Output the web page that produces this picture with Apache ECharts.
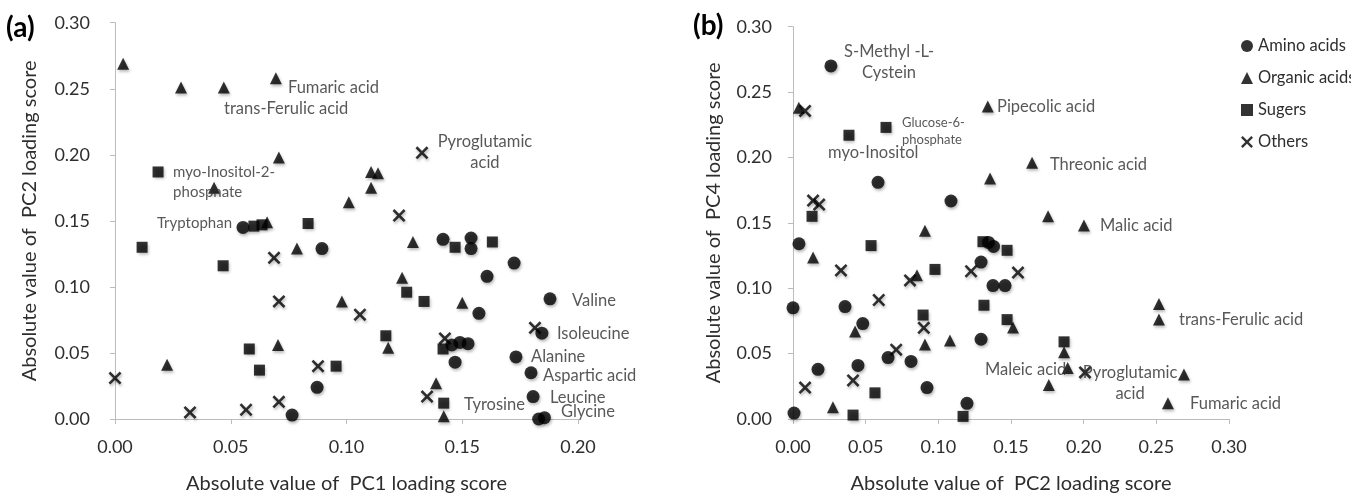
<!DOCTYPE html>
<html><head><meta charset="utf-8">
<script src="https://cdn.jsdelivr.net/npm/echarts@6/dist/echarts.min.js"></script>
<style>html,body{margin:0;padding:0;background:#fff}#c{width:1351px;height:499px}</style>
</head><body><div id="c"></div>
<script>
// ---------- Panel (a): |PC1| (x) vs |PC2| (y) ----------
const aminoA = [[0.0553,0.145],[0.0894,0.129],[0.0765,0.003],[0.0873,0.024],[0.1417,0.136],[0.1538,0.137],[0.1538,0.129],[0.1724,0.118],[0.1607,0.108],[0.1879,0.091],[0.1844,0.065],[0.1572,0.080],[0.1455,0.056],[0.1490,0.058],[0.1525,0.057],[0.1469,0.043],[0.1732,0.047],[0.1797,0.035],[0.1806,0.017],[0.1830,0.000],[0.1855,0.001]];
const organicA = [[0.0035,0.269],[0.0285,0.251],[0.047,0.251],[0.0695,0.258],[0.0708,0.198],[0.0428,0.175],[0.0657,0.149],[0.0786,0.129],[0.0704,0.056],[0.0225,0.041],[0.1106,0.187],[0.1136,0.186],[0.1106,0.175],[0.101,0.164],[0.1287,0.134],[0.124,0.107],[0.098,0.089],[0.118,0.054],[0.150,0.088],[0.1387,0.027],[0.142,0.002]];
const sugarA = [[0.0186,0.187],[0.0117,0.130],[0.0467,0.116],[0.0600,0.146],[0.0635,0.147],[0.0834,0.148],[0.058,0.053],[0.0624,0.037],[0.0955,0.040],[0.1469,0.130],[0.163,0.134],[0.126,0.096],[0.1335,0.089],[0.117,0.063],[0.142,0.012],[0.1417,0.053]];
const otherA = [[0.0,0.031],[0.0324,0.005],[0.0566,0.007],[0.0708,0.013],[0.0687,0.122],[0.0708,0.089],[0.0877,0.040],[0.1326,0.2015],[0.1227,0.154],[0.1058,0.079],[0.1425,0.061],[0.1348,0.017],[0.1814,0.069]];
const notesA = [['Fumaric acid',0.0747,0.2508],['trans-Ferulic acid',0.0471,0.2348],['Pyroglutamic\nacid',0.1598,0.2019],['myo-Inositol-2-\nphosphate',0.0251,0.1792],['Tryptophan',0.0181,0.1485],['Valine',0.1974,0.0894],['Isoleucine',0.1909,0.0644],['Alanine',0.1797,0.047],['Aspartic acid',0.1849,0.0326],['Leucine',0.1879,0.0159],['Glycine',0.1927,0.0053],['Tyrosine',0.1508,0.0106]];

// ---------- Panel (b): |PC2| (x) vs |PC4| (y) ----------
const aminoB = [[0.0261,0.270],[0.0585,0.181],[0.1087,0.1667],[0.0041,0.134],[0.0,0.085],[0.0007,0.0045],[0.0172,0.038],[0.0358,0.086],[0.048,0.073],[0.0447,0.041],[0.0654,0.047],[0.0812,0.044],[0.0922,0.024],[0.1197,0.012],[0.1294,0.061],[0.1294,0.120],[0.1376,0.102],[0.1459,0.102],[0.1345,0.135],[0.1380,0.132]];
const organicB = [[0.004,0.238],[0.134,0.239],[0.1356,0.184],[0.1645,0.196],[0.1755,0.155],[0.2002,0.148],[0.2518,0.088],[0.2518,0.076],[0.269,0.034],[0.258,0.012],[0.176,0.026],[0.1865,0.051],[0.189,0.039],[0.1514,0.070],[0.0908,0.144],[0.0138,0.1235],[0.0853,0.110],[0.0275,0.009],[0.0427,0.067],[0.0908,0.057],[0.108,0.060]];
const sugarB = [[0.0385,0.217],[0.064,0.223],[0.0131,0.155],[0.0537,0.1326],[0.0977,0.1144],[0.0895,0.0795],[0.1314,0.087],[0.1473,0.129],[0.1473,0.076],[0.0413,0.003],[0.0564,0.020],[0.117,0.002],[0.1865,0.059],[0.1307,0.1356]];
const otherB = [[0.0083,0.2356],[0.0138,0.167],[0.018,0.164],[0.033,0.1136],[0.059,0.091],[0.0805,0.106],[0.090,0.0697],[0.071,0.053],[0.0413,0.0295],[0.0083,0.024],[0.1225,0.113],[0.1548,0.112],[0.2009,0.0356]];
const notesB = [['S-Methyl -L-\nCystein',0.0661,0.2731],['Pipecolic acid',0.1404,0.2386],['Glucose-6-\nphosphate',0.075,0.2201],['myo-Inositol',0.0241,0.2038],['Threonic acid',0.1768,0.1947],['Malic acid',0.2112,0.1477],['trans-Ferulic acid',0.2656,0.0758],['Maleic acid',0.1321,0.0379],['Pyroglutamic\nacid',0.2319,0.0273],['Fumaric acid',0.2732,0.0114]];

const groups = ['Amino acids','Organic acids','Sugers','Others'];
const yTicks = [0, 0.05, 0.10, 0.15, 0.20, 0.25, 0.30];

// ---------- styling ----------
const FONT = 'Lato, "Open Sans", sans-serif';
const TXT = '#2e2e2e';
const AX = '#bcbcbc';
const XPATH = 'path://M0,1.7L1.7,0L6,4.3L10.3,0L12,1.7L7.7,6L12,10.3L10.3,12L6,7.7L1.7,12L0,10.3L4.3,6Z';
const SYM = {'Amino acids':['circle',13],'Organic acids':['triangle',12],'Sugers':['rect',11],'Others':[XPATH,13]};
const centred = new Set(['Pyroglutamic\nacid','S-Methyl -L-\nCystein']);
const small = {'Glucose-6-\nphosphate':13,'Tryptophan':15,'myo-Inositol-2-\nphosphate':15};

function pts(name, data, idx){
  return {type:'scatter', name, xAxisIndex:idx, yAxisIndex:idx, data,
    symbol:SYM[name][0], symbolSize:SYM[name][1], clip:false,
    itemStyle:{color:'#000', shadowColor:'rgba(0,0,0,0.35)', shadowBlur:3, shadowOffsetX:1, shadowOffsetY:2},
    emphasis:{disabled:true}, z:3};
}
function notes(list, idx){
  return {type:'scatter', xAxisIndex:idx, yAxisIndex:idx, symbolSize:0, silent:true, clip:false, z:5,
    data:list.map(([t,x,y])=>{const fs = small[t]||16.5; return {value:[x,y], label:{formatter:t, align:centred.has(t)?'center':'left', fontSize:fs, lineHeight:Math.round(fs*1.3)}};}),
    label:{show:true, position:[0,0], verticalAlign:'middle', color:TXT, fontFamily:FONT}};
}
function xAx(idx, max, name){
  return {gridIndex:idx, type:'value', min:0, max, interval:0.05, name, nameLocation:'middle', nameGap:55,
    nameTextStyle:{fontSize:20, color:TXT, fontFamily:FONT},
    axisLine:{show:true, lineStyle:{color:AX}}, axisTick:{show:true, length:5, lineStyle:{color:AX}},
    axisLabel:{fontSize:18, color:TXT, fontFamily:FONT, margin:19, formatter:v=>v.toFixed(2)}, splitLine:{show:false}};
}
function yAx(idx, name, gap, margin){
  return {gridIndex:idx, type:'value', min:yTicks[0], max:yTicks[yTicks.length-1], interval:0.05, name, nameLocation:'middle', nameGap:gap,
    nameTextStyle:{fontSize:20, color:TXT, fontFamily:FONT},
    axisLine:{show:true, lineStyle:{color:AX}}, axisTick:{show:true, length:5, lineStyle:{color:AX}},
    axisLabel:{fontSize:18, color:TXT, fontFamily:FONT, margin, formatter:v=>v.toFixed(2)}, splitLine:{show:false}};
}

const chart = echarts.init(document.getElementById('c'), null, {renderer:'canvas'});
chart.setOption({
  animation:false,
  backgroundColor:'#fff',
  grid:[{left:115, right:773, top:22.7, bottom:79.5}, {left:793, right:122, top:26.7, bottom:77}],
  xAxis:[xAx(0, 0.20, 'Absolute value of  PC1 loading score'), xAx(1, 0.30, 'Absolute value of  PC2 loading score')],
  yAxis:[yAx(0, 'Absolute value of  PC2 loading score', 75, 25), yAx(1, 'Absolute value of  PC4 loading score', 69, 21)],
  legend:{orient:'vertical', left:1236, top:32.5, itemWidth:12, itemHeight:12, itemGap:15, selectedMode:false,
    textStyle:{fontSize:16.5, color:TXT, fontFamily:FONT, lineHeight:17},
    data:[{name:groups[0], icon:'circle'},{name:groups[1], icon:'triangle'},{name:groups[2], icon:'rect'},{name:groups[3], icon:XPATH}]},
  graphic:[
    {type:'text', left:6, top:14, style:{text:'(a)', font:'bold 28px Lato, sans-serif', fill:'#000'}},
    {type:'text', left:693, top:12, style:{text:'(b)', font:'bold 28px Lato, sans-serif', fill:'#000'}}
  ],
  series:[
    pts(groups[0], aminoA, 0), pts(groups[1], organicA, 0), pts(groups[2], sugarA, 0), pts(groups[3], otherA, 0), notes(notesA, 0),
    pts(groups[0], aminoB, 1), pts(groups[1], organicB, 1), pts(groups[2], sugarB, 1), pts(groups[3], otherB, 1), notes(notesB, 1)
  ]
});
</script></body></html>
